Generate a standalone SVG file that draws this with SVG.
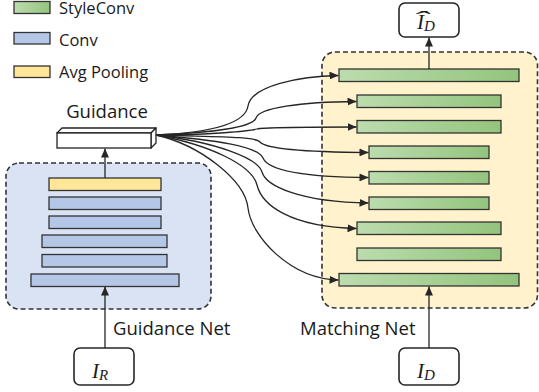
<svg xmlns="http://www.w3.org/2000/svg" width="539" height="392" viewBox="0 0 539 392">
  <defs>
    <linearGradient id="styleGrad" x1="0" y1="0" x2="1" y2="0">
      <stop offset="0" stop-color="#bcdcae"/>
      <stop offset="1" stop-color="#93c47d"/>
    </linearGradient>
    <marker id="arrow" markerUnits="userSpaceOnUse" markerWidth="9" markerHeight="8" refX="9" refY="4" orient="auto">
      <path d="M0,0 L9,4 L0,8 z" fill="#262626"/>
    </marker>
    <style>
      .lbl { font-family: "Open Sans", "Noto Sans", sans-serif; fill: #1a1a1a; }
      .legend { font-size: 16.5px; }
      .title { font-size: 18.5px; }
      .math { font-family: "Liberation Serif", "DejaVu Serif", serif; font-style: italic; fill: #1a1a1a; }
      .panel { stroke: #333; stroke-width: 1.6; stroke-dasharray: 5 3; }
      .conv { fill: #b4c7e7; stroke: #333; stroke-width: 1.3; }
      .pool { fill: #ffe699; stroke: #333; stroke-width: 1.3; }
      .style { fill: url(#styleGrad); stroke: #333; stroke-width: 1.3; }
      .io { fill: #fff; stroke: #262626; stroke-width: 1.6; }
      .wire { fill: none; stroke: #262626; stroke-width: 1.3; marker-end: url(#arrow); }
    </style>
  </defs>

  <rect width="539" height="392" fill="#fff"/>

  <!-- legend -->
  <g id="legend">
    <rect class="style" x="14" y="1.5" width="36" height="12"/>
    <text class="lbl legend" x="59" y="14">StyleConv</text>
    <rect class="conv" x="14" y="32.5" width="36" height="11.5"/>
    <text class="lbl legend" x="59" y="45.5">Conv</text>
    <rect class="pool" x="14" y="66" width="36" height="11.5"/>
    <text class="lbl legend" x="59" y="78">Avg Pooling</text>
  </g>

  <!-- guidance network -->
  <g id="guidance-net">
    <rect class="panel" x="6" y="163" width="205" height="146" rx="13" fill="#dae3f3"/>
    <rect class="pool" x="49" y="178" width="112" height="12.5"/>
    <rect class="conv" x="49" y="197" width="112" height="12.5"/>
    <rect class="conv" x="49" y="216" width="112" height="12.5"/>
    <rect class="conv" x="42" y="235" width="125" height="12.5"/>
    <rect class="conv" x="42" y="254.5" width="125" height="12.5"/>
    <rect class="conv" x="31" y="274" width="148" height="12.5"/>
    <text class="lbl title" x="113" y="335">Guidance Net</text>
  </g>

  <!-- guidance feature vector -->
  <g id="guidance">
    <text class="lbl title" x="107" y="117.5" text-anchor="middle">Guidance</text>
    <polygon points="57,133 62,128 156,128 151,133" fill="#fff" stroke="#222" stroke-width="1.3" stroke-linejoin="round"/>
    <polygon points="151,133 156,128 156,143 151,148" fill="#fff" stroke="#222" stroke-width="1.3" stroke-linejoin="round"/>
    <rect x="57" y="133" width="94" height="15" fill="#fff" stroke="#222" stroke-width="1.3"/>
  </g>

  <!-- matching network -->
  <g id="matching-net">
    <rect class="panel" x="322" y="52" width="215.5" height="256" rx="13" fill="#fff2cc"/>
    <rect class="style" x="339" y="69" width="180" height="12.5"/>
    <rect class="style" x="357" y="95" width="144" height="12.5"/>
    <rect class="style" x="357" y="120.5" width="144" height="12.5"/>
    <rect class="style" x="369" y="146" width="120" height="12.5"/>
    <rect class="style" x="369" y="171.5" width="120" height="12.5"/>
    <rect class="style" x="369" y="197" width="120" height="12.5"/>
    <rect class="style" x="357" y="222" width="144" height="12.5"/>
    <rect class="style" x="357" y="248" width="144" height="12.5"/>
    <rect class="style" x="339" y="273.5" width="180" height="12.5"/>
    <text class="lbl title" x="300" y="335">Matching Net</text>
  </g>

  <!-- inputs and output -->
  <g id="input-ref">
    <rect class="io" x="74" y="348" width="60" height="37" rx="6"/>
    <text class="math" x="92" y="377.5" font-size="21">I<tspan font-size="15" dy="2">R</tspan></text>
  </g>
  <g id="input-deg">
    <rect class="io" x="399" y="348" width="60" height="37" rx="6"/>
    <text class="math" x="417" y="377.5" font-size="21">I<tspan font-size="15" dy="2">D</tspan></text>
  </g>
  <g id="output">
    <rect class="io" x="399" y="3" width="60" height="34" rx="6"/>
    <text class="math" x="417" y="28.5" font-size="21">I<tspan font-size="15" dy="2">D</tspan></text>
    <!-- wide hat accent, stretched horizontally -->
    <text class="math" x="0" y="0" font-size="22" font-style="normal" transform="translate(411.5,26) scale(2.3,1)">ˆ</text>
  </g>

  <!-- connectors -->
  <g id="connectors">
    <line class="wire" x1="105" y1="178" x2="105" y2="148.5"/>
    <line class="wire" x1="105" y1="348" x2="105" y2="286.5"/>
    <line class="wire" x1="429" y1="69" x2="429" y2="37.5"/>
    <line class="wire" x1="429" y1="348" x2="429" y2="286.5"/>
    <path class="wire" d="M156,135 C200,133 245,126 248,106 S300,76 338.5,75.5"/>
    <path class="wire" d="M156,135 C205,133 253,128 256,118 S300,102 356.5,101.5"/>
    <path class="wire" d="M156,135 C210,135 250,131 257,129 S300,127 356.5,127"/>
    <path class="wire" d="M156,135 C210,137 255,136 260,142 S300,152 368.5,152.5"/>
    <path class="wire" d="M156,135 C215,140 258,146 263,158 S300,177 368.5,177.5"/>
    <path class="wire" d="M156,135 C215,142 258,158 262,172 S300,202 368.5,203"/>
    <path class="wire" d="M156,135 C210,145 252,165 257,185 S290,227 356.5,228.5"/>
    <path class="wire" d="M156,135 C200,145 245,180 248,208 S290,279 338.5,280"/>
  </g>
</svg>
